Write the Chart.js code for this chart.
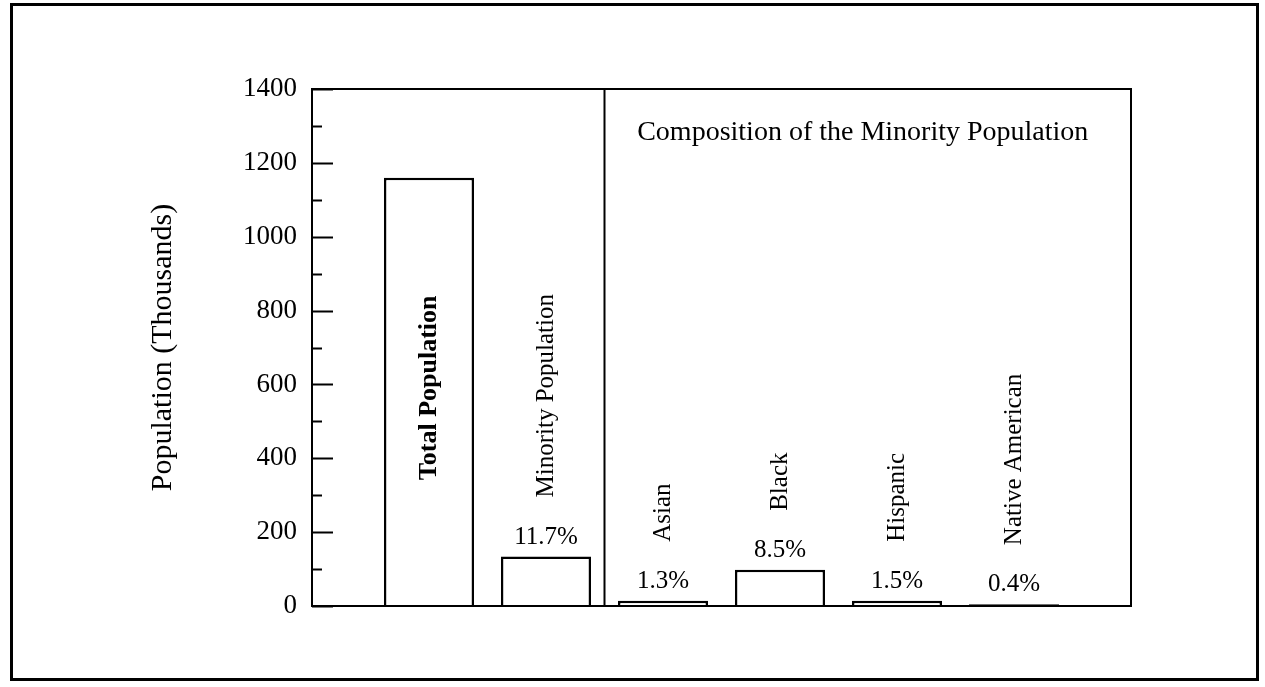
<!DOCTYPE html>
<html>
<head>
<meta charset="utf-8">
<title>Minority Population</title>
<script src="https://cdn.jsdelivr.net/npm/chart.js@4.4.1/dist/chart.umd.min.js"></script>
<style>
  html, body { margin: 0; padding: 0; background: #fff; }
  canvas { display: block; }
</style>
</head>
<body>
<canvas id="popChart" width="1265" height="687"></canvas>
<script>
// values (thousands)
const categories = ['Total Population', 'Minority Population', 'Asian', 'Black', 'Hispanic', 'Native American'];
const populationValues = [1160, 134, 14, 98, 14, 5];
const shareLabels = ['', '11.7%', '1.3%', '8.5%', '1.5%', '0.4%'];
const yMin = 0, yMax = 1400, yStep = 200, yMinorStep = 100;
const panelTitle = 'Composition of the Minority Population';
const yTitle = 'Population (Thousands)';

const SERIF = '"Liberation Serif", "Times New Roman", serif';

// pad with an empty slot on each side so bars sit half a gap in from the frame
const xLabels = [''].concat(categories, ['']);
const xData = [null].concat(populationValues, [null]);

const decorPlugin = {
    id: 'decor',
    afterDatasetsDraw(chart) {
        const ctx = chart.ctx;
        const area = chart.chartArea;
        const xs = chart.scales.x;
        const ys = chart.scales.y;
        const meta = chart.getDatasetMeta(0);

        ctx.save();
        ctx.strokeStyle = '#000';
        ctx.fillStyle = '#000';

        // outer page frame
        ctx.lineWidth = 3;
        ctx.strokeRect(11.5, 4.5, 1246, 675);

        // plot box
        ctx.lineWidth = 2;
        ctx.strokeRect(area.left, area.top, area.right - area.left, area.bottom - area.top);

        // divider between the totals and the composition panel
        const divX = (xs.getPixelForValue(2) + xs.getPixelForValue(3)) / 2;
        ctx.beginPath();
        ctx.moveTo(divX, area.top);
        ctx.lineTo(divX, area.bottom);
        ctx.stroke();

        // inward ticks on the y axis
        for (let v = yMin; v <= yMax; v += yMinorStep) {
            const py = Math.round(ys.getPixelForValue(v)) + 0.5;
            const len = (v % yStep === 0) ? 21 : 10;
            ctx.beginPath();
            ctx.moveTo(area.left, py);
            ctx.lineTo(area.left + len, py);
            ctx.stroke();
        }

        // panel title
        ctx.font = '28px ' + SERIF;
        ctx.textAlign = 'center';
        ctx.textBaseline = 'alphabetic';
        ctx.fillText(panelTitle, (divX + area.right) / 2 - 5, area.top + 51);

        // bar labels
        categories.forEach(function(name, i) {
            const bar = meta.data[i + 1];
            const cx = bar.x;
            const topY = bar.y;

            if (i === 0) {
                // bold label written inside the big bar
                ctx.save();
                ctx.translate(cx, (topY + bar.base) / 2 - 4);
                ctx.rotate(-Math.PI / 2);
                ctx.font = 'bold 26px ' + SERIF;
                ctx.textAlign = 'center';
                ctx.textBaseline = 'middle';
                ctx.fillText(name, 0, 0);
                ctx.restore();
                return;
            }

            ctx.font = '25px ' + SERIF;
            ctx.textAlign = 'center';
            ctx.textBaseline = 'alphabetic';
            ctx.fillText(shareLabels[i], cx, topY - 13);

            ctx.save();
            ctx.translate(cx, topY - 59);
            ctx.rotate(-Math.PI / 2);
            ctx.textAlign = 'left';
            ctx.textBaseline = 'middle';
            ctx.fillText(name, 0, 0);
            ctx.restore();
        });

        ctx.restore();
    }
};

new Chart(document.getElementById('popChart'), {
    type: 'bar',
    data: {
        labels: xLabels,
        datasets: [{
            data: xData,
            backgroundColor: '#ffffff',
            borderColor: '#000000',
            borderWidth: 2.5,
            barPercentage: 0.77,
            categoryPercentage: 1
        }]
    },
    options: {
        responsive: false,
        animation: false,
        layout: { padding: { top: 89, right: 134, bottom: 81, left: 0 } },
        plugins: {
            legend: { display: false },
            tooltip: { enabled: false }
        },
        scales: {
            x: {
                display: false,
                offset: false
            },
            y: {
                min: yMin,
                max: yMax,
                afterFit: function(scale) { scale.width = 312; },
                grid: { display: false, drawTicks: false },
                border: { display: false },
                ticks: {
                    stepSize: yStep,
                    padding: 15,
                    color: '#000',
                    font: { family: SERIF, size: 27 },
                    callback: function(value) { return String(value); }
                },
                title: {
                    display: true,
                    text: yTitle,
                    color: '#000',
                    font: { family: SERIF, size: 30 },
                    padding: { top: 145, bottom: 0 }
                }
            }
        }
    },
    plugins: [decorPlugin]
});
</script>
</body>
</html>
